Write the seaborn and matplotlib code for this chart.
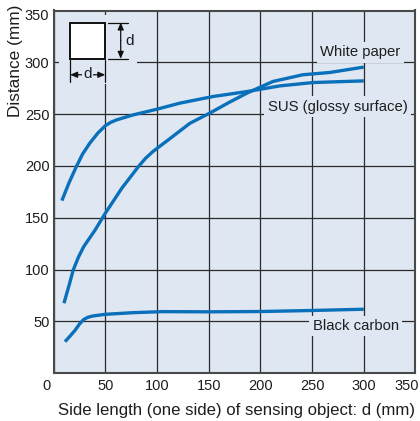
import pandas as pd
import matplotlib
matplotlib.use("Agg")
import matplotlib.pyplot as plt
import matplotlib.transforms as mtransforms
from matplotlib.patches import Rectangle
import seaborn as sns

# ==========================================
# Data
# ==========================================
sus_x = [8, 15, 22, 28, 35, 43, 50, 55, 61, 77, 100, 122, 154, 187, 219, 251, 300]
sus_y = [166.6, 184, 199.4, 211.5, 222, 232, 238.8, 242, 244.5, 249.3, 254.8, 260.6, 267, 271.8, 277.3, 280.5, 282.1]

white_x = [10, 15, 19, 24, 29, 40, 50, 66, 82, 89, 96, 113, 132, 151, 170, 187, 212, 241, 267, 300]
white_y = [67.6, 85, 99.7, 112, 122, 138, 154.4, 178.6, 199.4, 207.5, 213.9, 226.8, 241.3, 251, 261.5, 270.3, 281.5, 288, 290.2, 295.4]

carbon_x = [11, 16, 21, 25, 29, 33, 38, 50, 77, 106, 150, 200, 250, 300]
carbon_y = [30.5, 36, 41.8, 47.5, 51.8, 54.0, 55.3, 56.9, 58.5, 59.5, 59.3, 59.6, 60.6, 61.8]

series_names = ["SUS (glossy surface)", "White paper", "Black carbon"]
x_ticks = [0, 50, 100, 150, 200, 250, 300, 350]
y_ticks = [50, 100, 150, 200, 250, 300, 350]

# label anchors (data coords)
label_pos = {
    "White paper": (296.5, 309.8),
    "SUS (glossy surface)": (274.6, 257.3),
    "Black carbon": (292.4, 45.7),
}

BG = "#dfe7f3"
LINE = "#0a70ba"
GRID = "#2b2b2b"
TXT = "#1e1e1e"


def main():
    df = pd.concat([
        pd.DataFrame({"d": sus_x, "dist": sus_y, "obj": series_names[0]}),
        pd.DataFrame({"d": white_x, "dist": white_y, "obj": series_names[1]}),
        pd.DataFrame({"d": carbon_x, "dist": carbon_y, "obj": series_names[2]}),
    ])

    sns.set_theme(style="whitegrid")
    plt.rcParams["font.family"] = ["Liberation Sans", "DejaVu Sans"]

    fig = plt.figure(figsize=(4.2, 4.21), dpi=100)
    ax = fig.add_axes([53.6 / 420, (421 - 373.3) / 421,
                       (415.5 - 53.6) / 420, (373.3 - 10.5) / 421])
    ax.set_facecolor(BG)

    sns.lineplot(data=df, x="d", y="dist", hue="obj", sort=False, estimator=None,
                 palette={n: LINE for n in series_names}, linewidth=2.4,
                 legend=False, ax=ax, zorder=3)
    for ln in ax.lines:
        ln.set_solid_capstyle("butt")
        ln.set_solid_joinstyle("round")

    ax.set_xlim(0, 350)
    ax.set_ylim(0, 350)
    ax.set_xticks(x_ticks)
    ax.set_yticks(y_ticks)
    ax.grid(True, color=GRID, linewidth=0.9, zorder=1)
    ax.set_axisbelow(True)
    for s in ax.spines.values():
        s.set_color("#4a4a4a")
        s.set_linewidth(1.5)

    ax.tick_params(axis="both", length=0, labelsize=10.5, labelcolor=TXT)
    ax.tick_params(axis="x", pad=4)
    ax.tick_params(axis="y", pad=3)

    # nudge end tick labels like the original
    xl = ax.get_xticklabels()
    xl[0].set_transform(xl[0].get_transform() + mtransforms.ScaledTranslation(-7 / 100, 0, fig.dpi_scale_trans))
    xl[-1].set_transform(xl[-1].get_transform() + mtransforms.ScaledTranslation(-9 / 100, 0, fig.dpi_scale_trans))
    yl = ax.get_yticklabels()
    yl[-1].set_transform(yl[-1].get_transform() + mtransforms.ScaledTranslation(0, -4 / 100, fig.dpi_scale_trans))

    ax.set_xlabel("")
    ax.set_ylabel("")
    fig.text(415 / 420, 1 - 411 / 421, "Side length (one side) of sensing object: d (mm)",
             ha="right", va="center", fontsize=12.1, color=TXT)
    fig.text(15.5 / 420, 1 - 5 / 421, "Distance (mm)", rotation=90,
             ha="center", va="top", fontsize=12.4, color=TXT)

    # series labels sit on background-coloured boxes that hide the grid
    for name, (lx, ly) in label_pos.items():
        ax.text(lx, ly, name, ha="center", va="center", fontsize=10.7, color=TXT, zorder=4,
                bbox=dict(facecolor=BG, edgecolor="none", pad=2.5))

    # inset diagram of the square object, on a patch that hides the grid
    ax.add_patch(Rectangle((5.2, 279.2), 75.7, 66.6, facecolor=BG, edgecolor="none", zorder=2))
    ax.add_patch(Rectangle((16, 303.4), 34, 35, facecolor="white", edgecolor="#111111",
                           linewidth=1.4, zorder=3))
    for yy in (303.4, 338.4):
        ax.plot([52.6, 72], [yy, yy], color="#111111", linewidth=0.9, zorder=3)
    for xx in (16, 50):
        ax.plot([xx, xx], [281.5, 302.4], color="#111111", linewidth=0.9, zorder=3)
    arr = dict(arrowstyle="-|>,head_length=0.35,head_width=0.15", color="#111111",
               linewidth=0.9, shrinkA=0, shrinkB=0)
    ax.annotate("", xy=(64.9, 338.4), xytext=(64.9, 320.9), arrowprops=arr, zorder=3)
    ax.annotate("", xy=(64.9, 303.4), xytext=(64.9, 320.9), arrowprops=arr, zorder=3)
    ax.annotate("", xy=(16, 288), xytext=(33, 288), arrowprops=arr, zorder=3)
    ax.annotate("", xy=(50, 288), xytext=(33, 288), arrowprops=arr, zorder=3)
    ax.text(69.5, 320.9, "d", ha="left", va="center", fontsize=11, color=TXT, zorder=4)
    ax.text(33, 288.5, "d", ha="center", va="center", fontsize=11, color=TXT, zorder=4,
            bbox=dict(facecolor=BG, edgecolor="none", pad=0.8))

    fig.savefig("out.png", dpi=100)
    plt.close(fig)


if __name__ == "__main__":
    main()
